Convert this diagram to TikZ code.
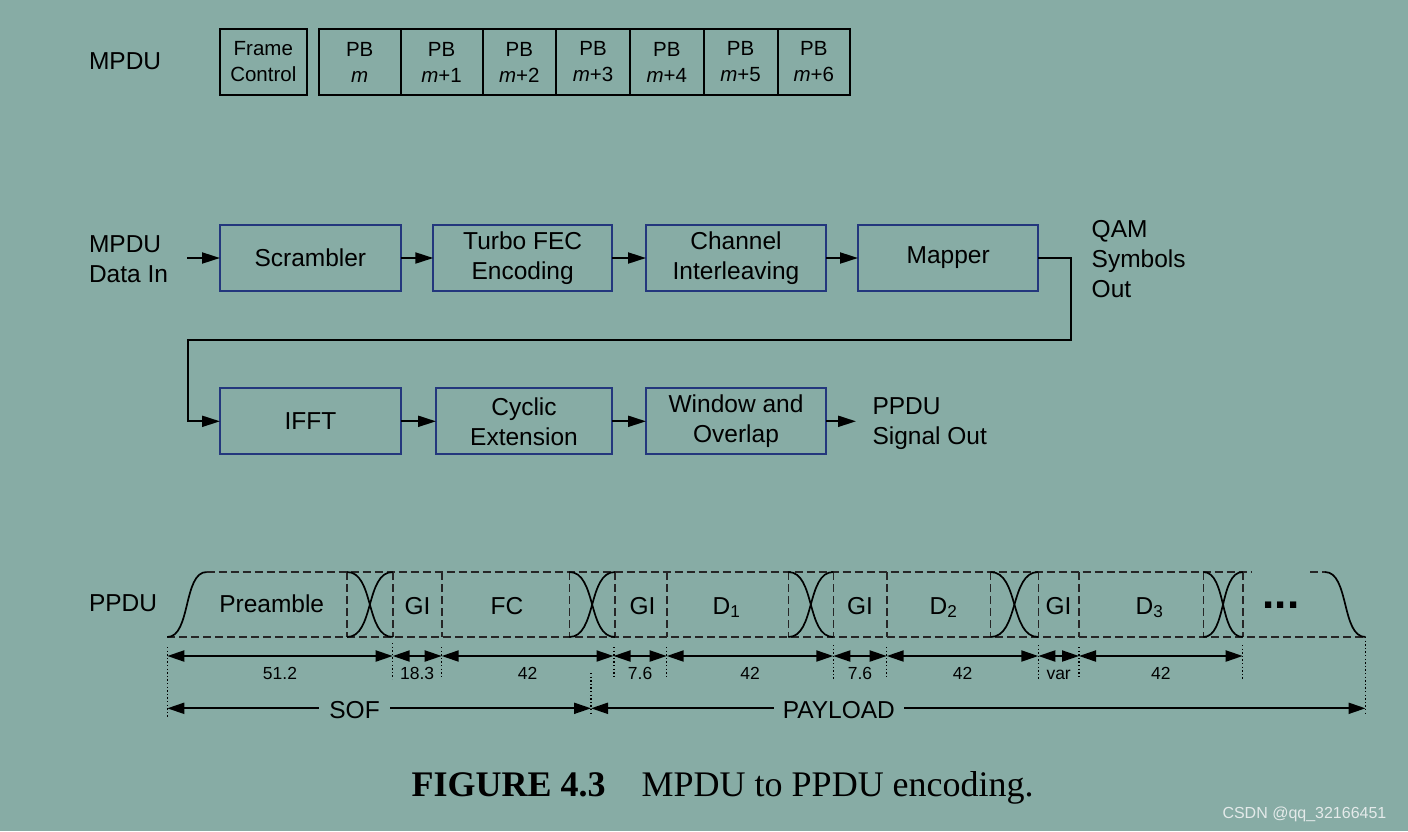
\documentclass[tikz,border=0pt]{standalone}
\usepackage{fontspec}
\setmainfont{Liberation Sans}
\newfontfamily\capfont{Liberation Serif}
\usetikzlibrary{arrows.meta}
\definecolor{bg}{RGB}{135,172,165}
\definecolor{boxblue}{RGB}{35,55,125}
\definecolor{wmark}{RGB}{228,234,234}
\newcommand\fsz[2]{\fontsize{#1}{#2}\selectfont}
\begin{document}
\begin{tikzpicture}[x=1pt,y=-1pt,
  every node/.style={inner sep=0pt, outer sep=0pt},
  blk/.style={draw=boxblue, line width=2pt, minimum height=66pt, align=center, font=\fsz{24.5}{30}},
  pbbox/.style={draw=black, line width=2pt, minimum height=66pt, align=center, font=\fsz{20.5}{26}},
  lbl/.style={align=left, font=\fsz{24.5}{30}},
  flow/.style={line width=2pt, -{Triangle[length=18pt,width=11pt]}},
  dim/.style={line width=2pt, {Triangle[length=17pt,width=11pt]}-{Triangle[length=17pt,width=11pt]}},
  dashln/.style={line width=1.6pt, dash pattern=on 8pt off 4pt, draw=black!85},
  dotln/.style={line width=1.4pt, dash pattern=on 1.4pt off 2.2pt},
  wave/.style={line width=1.7pt},
  num/.style={font=\fsz{17.5}{20}, anchor=base},
  seg/.style={font=\fsz{24.5}{30}, anchor=base},
]
\fill[bg] (0,0) rectangle (1408,831);
\useasboundingbox (0,0) rectangle (1408,831);

% ---------------- MPDU row ----------------
\node[lbl, anchor=west] (mpdulbl) at (89,61) {MPDU};
\node[pbbox, minimum width=86.7pt] (fc) at (263.3,62) {Frame\\Control};
\node[pbbox, minimum width=82pt]   (pb0) at (359.7,62) {PB\\\textit{m}};
\node[pbbox, minimum width=81.8pt] (pb1) at (441.6,62) {PB\\\textit{m}+1};
\node[pbbox, minimum width=73.5pt] (pb2) at (519.25,62) {PB\\\textit{m}+2};
\node[pbbox, minimum width=74pt]   (pb3) at (593,62) {PB\\\textit{m}+3};
\node[pbbox, minimum width=73.5pt] (pb4) at (666.75,62) {PB\\\textit{m}+4};
\node[pbbox, minimum width=74pt]   (pb5) at (740.5,62) {PB\\\textit{m}+5};
\node[pbbox, minimum width=72.5pt] (pb6) at (813.75,62) {PB\\\textit{m}+6};

% ---------------- encoder chain ----------------
\node[lbl, anchor=west] (datain) at (89,259.3) {MPDU\\Data In};
\coordinate (inA) at (187.3,258);
\node[blk, minimum width=180.7pt] (scr) at (310.35,258) {Scrambler};
\node[blk, minimum width=178.7pt] (fec) at (522.65,258) {Turbo FEC\\Encoding};
\node[blk, minimum width=180pt]   (chi) at (736,258) {Channel\\Interleaving};
\node[blk, minimum width=180.3pt] (map) at (948.15,258) {Mapper};
\node[lbl, anchor=west] (qam) at (1091.7,258.8) {QAM\\Symbols\\Out};

\node[blk, minimum width=180.7pt] (ifft) at (310.35,421.3) {IFFT};
\node[blk, minimum width=176pt]   (cyc) at (524,421.3) {Cyclic\\Extension};
\node[blk, minimum width=180pt]   (win) at (736,421.3) {Window and\\Overlap};
\node[lbl, anchor=west] (ppduout) at (872.5,423.8) {PPDU\\Signal Out};
\coordinate (outA) at (856,421.3);
\coordinate (t1) at (1070.7,340);
\coordinate (t2) at (188.3,340);

\draw[flow] (inA) -- (scr.west);
\draw[flow] (scr.east) -- (fec.west);
\draw[flow] (fec.east) -- (chi.west);
\draw[flow] (chi.east) -- (map.west);
\draw[flow] (map.east) -| (t1) -- (t2) |- (ifft.west);
\draw[flow] (ifft.east) -- (cyc.west);
\draw[flow] (cyc.east) -- (win.west);
\draw[flow] (win.east) -- (outA);

% ---------------- PPDU waveform ----------------
\node[lbl, anchor=west] (ppdulbl) at (89,603.5) {PPDU};
% dashed frame
\draw[dashln] (206.7,572) -- (1252,572);
\draw[dashln] (1310,572) -- (1325,572);
\draw[dashln] (167.3,637) -- (1365.5,637);
\foreach \x in {347,392.7,441.7,569.3,615,666.7,788.3,833.3,886.7,990.5,1038.3,1079,1203.3,1242.7}
  \draw[dashln] (\x,572) -- (\x,637);
% edges
\draw[wave] (167.3,637) .. controls (190.9,637) and (183.1,572) .. (206.7,572);
\foreach \a/\b in {347/392.7, 569.3/615, 788.3/833.3, 990.5/1038.3, 1203.3/1242.7}{
  \draw[wave] (\a,572) .. controls ({\a+0.6*(\b-\a)},572) and ({\b-0.6*(\b-\a)},637) .. (\b,637);
  \draw[wave] (\a,637) .. controls ({\a+0.6*(\b-\a)},637) and ({\b-0.6*(\b-\a)},572) .. (\b,572);
}
\draw[wave] (1325,572) .. controls (1349.3,572) and (1341.2,637) .. (1365.5,637);
% segment labels
\node[seg] (tpre) at (271.7,612.5) {Preamble};
\node[seg] (tgi0) at (417.5,614) {GI};
\node[seg] (tfc)  at (507,614) {FC};
\node[seg] (tgi1) at (642.5,614) {GI};
\node[seg] (td1)  at (726.5,614) {D\textsubscript{1}};
\node[seg] (tgi2) at (860,614) {GI};
\node[seg] (td2)  at (943.5,614) {D\textsubscript{2}};
\node[seg] (tgi3) at (1058.5,614) {GI};
\node[seg] (td3)  at (1149.5,614) {D\textsubscript{3}};
\node[font=\bfseries\fsz{44}{44}, anchor=base] (dots) at (1281,608.3) {...};

% ---------------- dimensions ----------------
\foreach \x/\ya/\yb in {167.3/647/717, 392.7/643/679, 441.7/647/679, 614/647/679, 666.7/647/679,
   833.3/645/679, 886.7/647/679, 1038.3/645/679, 1079/647/679, 1242.7/645/679, 1365.5/637/713, 591/673/715}
  \draw[dotln] (\x,\ya) -- (\x,\yb);

\coordinate (d0) at (167.3,656);
\coordinate (d1) at (392.7,656);
\coordinate (d2) at (441.7,656);
\coordinate (d3) at (613.5,656);
\coordinate (d4) at (666.7,656);
\coordinate (d5) at (833.3,656);
\coordinate (d6) at (886.7,656);
\coordinate (d7) at (1038.3,656);
\coordinate (d8) at (1079,656);
\coordinate (d9) at (1242.7,656);
\draw[dim] (d0) -- node[num, yshift=-23.3pt] {51.2} (d1);
\draw[dim] (d1) -- node[num, yshift=-23.3pt] {18.3} (d2);
\draw[dim] (d2) -- node[num, yshift=-23.3pt] {42} (d3);
\draw[dim] (d3) -- node[num, yshift=-23.3pt] {7.6} (d4);
\draw[dim] (d4) -- node[num, yshift=-23.3pt] {42} (d5);
\draw[dim] (d5) -- node[num, yshift=-23.3pt] {7.6} (d6);
\draw[dim] (d6) -- node[num, yshift=-23.3pt] {42} (d7);
\draw[dim] (d7) -- node[num, yshift=-23.3pt] {var} (d8);
\draw[dim] (d8) -- node[num, yshift=-23.3pt] {42} (d9);

\coordinate (s0) at (167.3,708.3);
\coordinate (s1) at (591,708.3);
\coordinate (s2) at (1365.5,708.3);
\draw[dim] (s0) -- node[pos=0.442, fill=bg, inner xsep=10pt, inner ysep=3pt, font=\fsz{24.5}{30}, yshift=-1.5pt] {SOF} (s1);
\draw[dim] (s1) -- node[pos=0.32, fill=bg, inner xsep=9pt, inner ysep=3pt, font=\fsz{24.5}{30}, yshift=-1.5pt] {PAYLOAD} (s2);

% ---------------- caption ----------------
\node[anchor=base west, font=\capfont\fsz{36}{40}] (cap) at (411.7,796.7) {\textbf{FIGURE 4.3}\quad MPDU to PPDU encoding.};
\node[anchor=base west, font=\fsz{16}{18}, text=wmark] (wm) at (1222.5,818) {CSDN @qq\_32166451};
\end{tikzpicture}
\end{document}
